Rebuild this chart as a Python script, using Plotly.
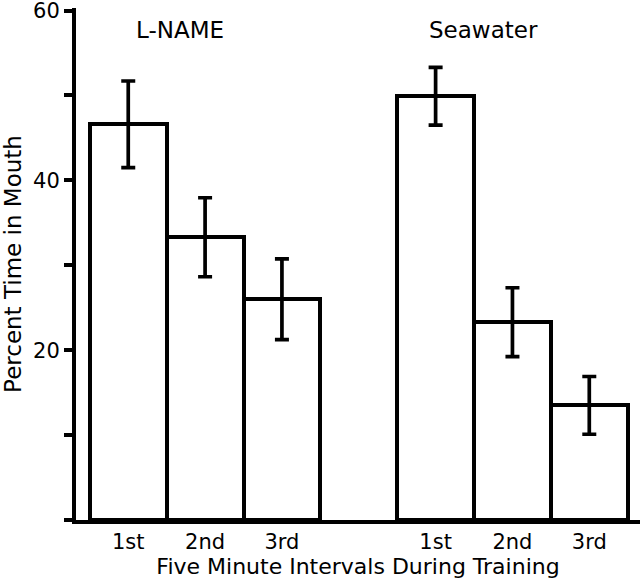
import plotly.graph_objects as go

groups = ["L-NAME", "Seawater"]
intervals = ["1st", "2nd", "3rd"]
lname_values = [46.6, 33.3, 26.0]
lname_errors = [5.1, 4.65, 4.75]
sea_values = [49.9, 23.3, 13.5]
sea_errors = [3.4, 4.05, 3.4]
y_tickvals = [0, 10, 20, 30, 40, 50, 60]
y_ticktext = ["", "", "20", "", "40", "", "60"]

FONT = "DejaVu Sans"

x_lname = [i for i in range(len(intervals))]
x_sea = [i + len(intervals) + 1 for i in range(len(intervals))]

fig = go.Figure()
for xs, vals, errs in [(x_lname, lname_values, lname_errors), (x_sea, sea_values, sea_errors)]:
    fig.add_trace(go.Bar(
        x=xs, y=vals, width=1.0,
        marker=dict(color="white", line=dict(color="black", width=4)),
        error_y=dict(type="data", array=errs, visible=True, color="black", thickness=3.7, width=7),
        showlegend=False,
    ))

fig.update_layout(
    width=640, height=583,
    margin=dict(l=76, r=0, t=8, b=63),
    plot_bgcolor="white", paper_bgcolor="white",
    font=dict(family=FONT, size=21, color="black"),
    bargap=0,
    xaxis=dict(
        range=[-0.68, 6.66], tickvals=x_lname + x_sea, ticktext=intervals + intervals,
        showline=True, linecolor="black", linewidth=4, ticks="", showgrid=False, zeroline=False,
        tickfont=dict(size=21), ticklabelstandoff=0, automargin=False,
        title=dict(text="Five Minute Intervals During Training", font=dict(size=22), standoff=0),
    ),
    yaxis=dict(
        range=[0, 60.3], tickvals=y_tickvals, ticktext=y_ticktext,
        showline=True, linecolor="black", linewidth=4, ticks="outside", ticklen=8, tickwidth=3.5,
        tickcolor="black", showgrid=False, zeroline=False, tickfont=dict(size=21), automargin=False,
        ticklabeloverflow="allow",
        title=dict(text="Percent Time in Mouth", font=dict(size=23), standoff=6),
    ),
)
for g, px in zip(groups, [0.184, 0.722]):
    fig.add_annotation(x=px, y=0.957, xref="paper", yref="paper", xanchor="center",
                       yanchor="middle", text=g, showarrow=False, font=dict(size=23))

fig.write_html("out.html", config={"displayModeBar": False},
               post_script="document.body.style.margin='0';")
